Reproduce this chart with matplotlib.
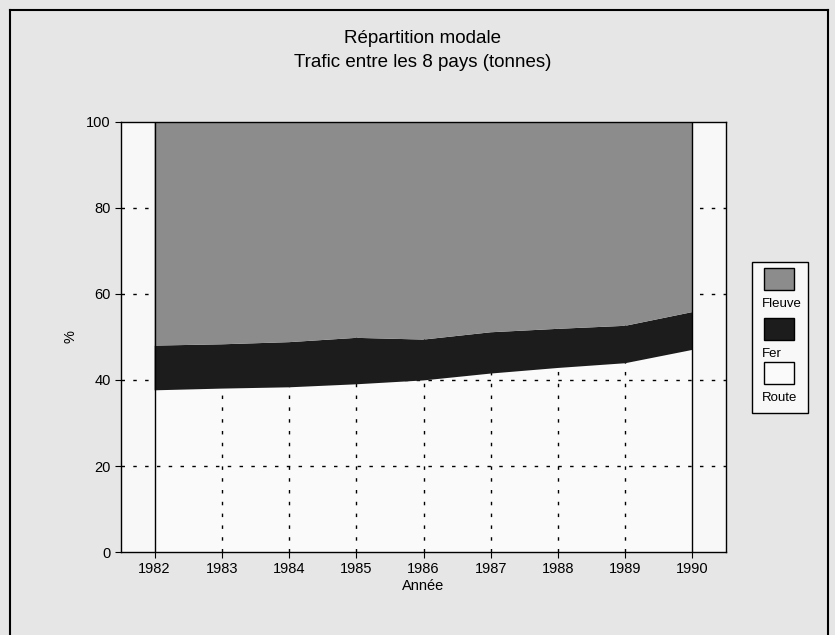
import matplotlib.pyplot as plt
from matplotlib.patches import Rectangle
from matplotlib.lines import Line2D

plt.rcParams['font.family'] = ['Liberation Sans', 'DejaVu Sans']

# Values (% of tonnes)
years = [1982, 1983, 1984, 1985, 1986, 1987, 1988, 1989, 1990]
route = [37.6, 38.0, 38.3, 39.0, 39.9, 41.5, 42.8, 43.9, 47.0]
fer = [10.4, 10.3, 10.5, 10.8, 9.5, 9.6, 9.1, 8.7, 8.8]
fleuve = [100 - r - f for r, f in zip(route, fer)]

labels = ['Fleuve', 'Fer', 'Route']
colors = {'Route': '#fafafa', 'Fer': '#1c1c1c', 'Fleuve': '#8c8c8c'}

fig = plt.figure(figsize=(8.35, 6.35), dpi=100, facecolor='#e6e6e6')
ax = fig.add_axes([0.1449, 0.1307, 0.7246, 0.6772])
ax.set_facecolor('#f8f8f8')

polys = ax.stackplot(years, route, fer, fleuve,
                     colors=[colors['Route'], colors['Fer'], colors['Fleuve']])
polys[0].set_zorder(1)   # route stays under the grid
polys[1].set_zorder(3)
polys[2].set_zorder(3)

# dotted grid: visible on the white Route area and the side margins
for y in [20, 40, 60, 80]:
    ax.axhline(y, color='black', lw=1, ls=(0, (2.5, 6)), zorder=2)
for x in years[1:-1]:
    ax.axvline(x, color='black', lw=1, ls=(0, (2.5, 6)), zorder=2)

ax.vlines([years[0], years[-1]], 0, 100, color='black', lw=1, zorder=4)

ax.set_xlim(1981.5, 1990.5)
ax.set_ylim(0, 100)
ax.set_xticks(years)
ax.set_yticks([0, 20, 40, 60, 80, 100])
ax.tick_params(direction='out', length=4, labelsize=10.5, width=0.8)
for s in ax.spines.values():
    s.set_linewidth(1)
    s.set_zorder(5)

ax.set_xlabel('Année', fontsize=10.5, labelpad=2)
ax.set_ylabel('%', fontsize=10.5, labelpad=6)

fig.text(0.506, 0.940, 'Répartition modale', ha='center', va='center', fontsize=13.5)
fig.text(0.506, 0.901, 'Trafic entre les 8 pays (tonnes)', ha='center', va='center', fontsize=13.5)

# Legend box drawn by hand (labels sit under their swatches)
W, H = 835, 635
def fx(px):
    return px / W
def fy(py):
    return 1 - py / H

fig.add_artist(Rectangle((fx(752), fy(413)), fx(808) - fx(752), fy(262) - fy(413),
                         transform=fig.transFigure, facecolor='#f8f8f8', edgecolor='black', lw=1))
sw_top = [268, 318, 362]
for lab, top in zip(labels, sw_top):
    fig.add_artist(Rectangle((fx(764), fy(top + 22)), fx(794) - fx(764), fy(top) - fy(top + 22),
                             transform=fig.transFigure, facecolor=colors[lab],
                             edgecolor='black', lw=1))
    fig.text(fx(762), fy(top + 36), lab, ha='left', va='center', fontsize=9.5)

# Frame around the whole scanned figure
for xs, ys in [([10, 828], [10, 10]), ([10, 10], [10, 635]), ([828, 828], [10, 635])]:
    fig.add_artist(Line2D([fx(v) for v in xs], [fy(v) for v in ys],
                          transform=fig.transFigure, color='black', lw=1.5))

fig.savefig('out.png', dpi=100, facecolor=fig.get_facecolor())
